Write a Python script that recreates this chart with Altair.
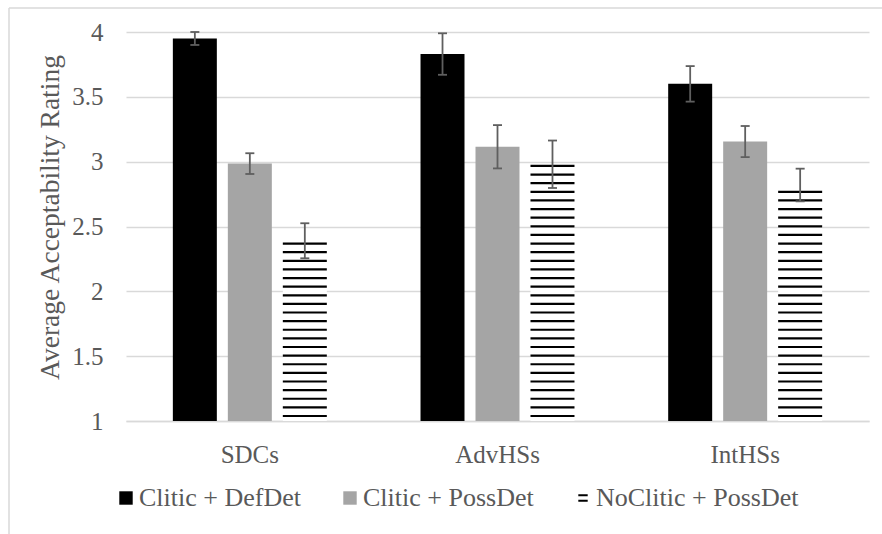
import altair as alt
import pandas as pd

# Learner groups on the x axis and the three sentence conditions
groups = ["SDCs", "AdvHSs", "IntHSs"]
series = ["Clitic + DefDet", "Clitic + PossDet", "NoClitic + PossDet"]

# Mean acceptability ratings per condition, in group order
clitic_defdet = [3.95, 3.83, 3.60]
clitic_possdet = [2.985, 3.115, 3.155]
noclitic_possdet = [2.39, 2.98, 2.82]

# Half-widths of the error bars, in group order
err_clitic_defdet = [0.05, 0.16, 0.137]
err_clitic_possdet = [0.08, 0.167, 0.12]
err_noclitic_possdet = [0.135, 0.183, 0.126]

y_ticks = [1, 1.5, 2, 2.5, 3, 3.5, 4]

means = [clitic_defdet, clitic_possdet, noclitic_possdet]
errs = [err_clitic_defdet, err_clitic_possdet, err_noclitic_possdet]

rows = []
for s, m_list, e_list in zip(series, means, errs):
    for g, m, e in zip(groups, m_list, e_list):
        rows.append({"group": g, "series": s, "mean": m,
                     "lo": m - e, "hi": m + e})
df = pd.DataFrame(rows)

# Horizontal hatch lines filling the patterned bars
hatch_start, hatch_step = 1.0386, 0.0665
hatch_rows = []
for _, r in df[df["series"] == series[2]].iterrows():
    lvl = hatch_start
    while lvl <= r["mean"] - 0.005:
        hatch_rows.append({"group": r["group"], "series": r["series"], "level": lvl})
        lvl += hatch_step
hatch_df = pd.DataFrame(hatch_rows)

FONT = "Liberation Serif"
TEXT = "#595959"
GRID = "#d9d9d9"

x_enc = alt.X("group:N", sort=groups, title=None,
              scale=alt.Scale(domain=groups, paddingInner=0, paddingOuter=0),
              axis=alt.Axis(labelFont=FONT, labelFontSize=25, labelColor=TEXT,
                            labelAngle=0, ticks=False, labelPadding=21,
                            domainColor=GRID, domainWidth=1.3))
xoff_enc = alt.XOffset("series:N", sort=series,
                       scale=alt.Scale(domain=series, paddingInner=0.2, paddingOuter=0.852))
y_scale = alt.Scale(domain=[1, 4], nice=False, zero=False)

bars = alt.Chart(df).mark_bar().encode(
    x=x_enc,
    xOffset=xoff_enc,
    y=alt.Y("mean:Q", scale=y_scale, title="Average Acceptability Rating",
            axis=alt.Axis(values=y_ticks, format="~g", labelFont=FONT,
                          labelFontSize=25, labelColor=TEXT, ticks=False,
                          domain=False, labelPadding=23, gridColor=GRID,
                          gridWidth=1.3, titleFont=FONT, titleFontSize=27.5,
                          titleFontWeight="normal", titleColor=TEXT,
                          titleX=-76, titleY=185, titleAlign="center",
                          titleBaseline="middle", titleAngle=-90)),
    y2=alt.datum(1),
    fill=alt.Fill("series:N", sort=series, legend=None,
                  scale=alt.Scale(domain=series, range=["#000000", "#a5a5a5", "#ffffff"])),
)

hatch = alt.Chart(hatch_df).mark_tick(orient="horizontal", size=44, thickness=2.2,
                                      color="#000000", opacity=1).encode(
    x=alt.X("group:N", sort=groups),
    xOffset=alt.XOffset("series:N", sort=series),
    y=alt.Y("level:Q", scale=y_scale),
)

err_rule = alt.Chart(df).mark_rule(color="#5f5f5f", strokeWidth=1.8).encode(
    x=alt.X("group:N", sort=groups),
    xOffset=alt.XOffset("series:N", sort=series),
    y=alt.Y("lo:Q", scale=y_scale),
    y2="hi:Q",
)
cap_lo = alt.Chart(df).mark_tick(orient="horizontal", size=9, thickness=1.8,
                                 color="#5f5f5f", opacity=1).encode(
    x=alt.X("group:N", sort=groups),
    xOffset=alt.XOffset("series:N", sort=series),
    y=alt.Y("lo:Q", scale=y_scale),
)
cap_hi = alt.Chart(df).mark_tick(orient="horizontal", size=9, thickness=1.8,
                                 color="#5f5f5f", opacity=1).encode(
    x=alt.X("group:N", sort=groups),
    xOffset=alt.XOffset("series:N", sort=series),
    y=alt.Y("hi:Q", scale=y_scale),
)

# Legend keys: solid squares for the plain bars, a double bar for the hatched one
square = "M-1,-1H1V1H-1Z"
double_bar = "M-0.7,-0.55H0.7V-0.25H-0.7Z M-0.7,0.25H0.7V0.55H-0.7Z"
shape_expr = f"datum.value === '{series[2]}' ? '{double_bar}' : '{square}'"
legend = alt.Legend(title=None, orient="none", legendX=-13, legendY=453,
                    direction="horizontal", labelFont=FONT, labelFontSize=26,
                    labelColor=TEXT, labelLimit=400, symbolSize=180, labelOffset=0,
                    columnPadding=36, symbolStrokeWidth=0, symbolOpacity=1,
                    symbolType=alt.ExprRef(expr=shape_expr))
legend_layer = alt.Chart(df).mark_point(filled=True, opacity=1).encode(
    color=alt.Color("series:N", sort=series, legend=legend,
                    scale=alt.Scale(domain=series, range=["#000000", "#a5a5a5", "#000000"])),
).transform_filter("false")

# Light outer frame of the chart area
frame_df = pd.DataFrame({"k": [0]})
frame_left = alt.Chart(frame_df).mark_rule(color=GRID, strokeWidth=1.5).encode(
    x=alt.value(-117), y=alt.value(-24), y2=alt.value(600))
frame_top = alt.Chart(frame_df).mark_rule(color=GRID, strokeWidth=1.5).encode(
    x=alt.value(-117), x2=alt.value(800), y=alt.value(-24))

chart = alt.layer(
    frame_left, frame_top, bars, hatch, err_rule, cap_lo, cap_hi, legend_layer
).resolve_scale(
    color="independent", fill="independent"
).resolve_legend(
    color="independent", fill="independent"
).properties(
    width=743, height=389,
    autosize=alt.AutoSizeParams(type="none"),
    padding={"left": 126, "top": 32, "right": 13, "bottom": 113},
    background="white",
).configure_view(stroke=None)

chart.save("out.html", embed_options={"renderer": "svg", "actions": False})
